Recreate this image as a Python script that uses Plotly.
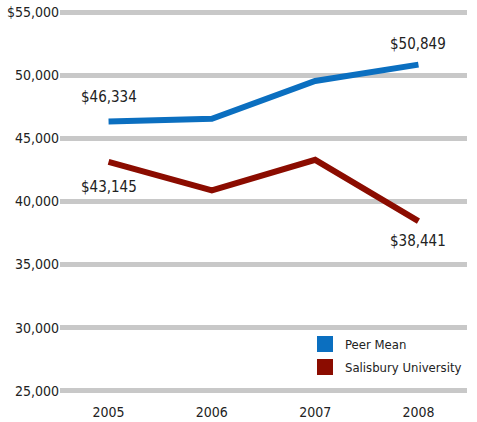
import plotly.graph_objects as go

years = ["2005", "2006", "2007", "2008"]
peer_mean = [46334, 46550, 49550, 50849]
salisbury = [43145, 40880, 43300, 38441]
ytick_vals = [25000, 30000, 35000, 40000, 45000, 50000, 55000]
ytick_text = ["25,000", "30,000", "35,000", "40,000", "45,000", "50,000", "$55,000"]

BLUE = "#0b6fc0"
RED = "#8b0c00"
FONT = "DejaVu Sans Condensed"
TXT = "#222222"

fig = go.Figure()
fig.add_trace(go.Scatter(x=years, y=peer_mean, mode="lines", line=dict(color=BLUE, width=6),
                         showlegend=False, hoverinfo="skip"))
fig.add_trace(go.Scatter(x=years, y=salisbury, mode="lines", line=dict(color=RED, width=6),
                         showlegend=False, hoverinfo="skip"))
fig.add_trace(go.Scatter(x=[None], y=[None], mode="markers", name="Peer Mean", legendgroup="a",
                         marker=dict(symbol="square", size=17, color=BLUE)))
fig.add_trace(go.Scatter(x=[None], y=[None], mode="markers", name="Salisbury University", legendgroup="b",
                         marker=dict(symbol="square", size=17, color=RED)))

def money(v):
    return "&#36;" + "{:,}".format(v)

last = len(years) - 1
for xi, yv, sh in [(0, peer_mean[0], 25), (last, peer_mean[last], 21),
                   (0, salisbury[0], -25), (last, salisbury[last], -20)]:
    fig.add_annotation(x=xi, y=yv, xref="x", yref="y", text=money(yv), yshift=sh,
                       showarrow=False, font=dict(family=FONT, size=15, color=TXT),
                       xanchor="center", yanchor="middle")

fig.update_layout(
    width=477, height=422,
    margin=dict(l=60, r=10, t=11, b=30),
    paper_bgcolor="white", plot_bgcolor="white",
    font=dict(family=FONT, size=14, color=TXT),
    xaxis=dict(type="category", range=[-0.47, 3.47], showgrid=False, showline=False, zeroline=False,
               ticks="", automargin=False, ticklabelstandoff=10,
               tickfont=dict(family=FONT, size=14, color=TXT)),
    yaxis=dict(range=[24900, 55100], tickvals=ytick_vals, ticktext=ytick_text, showgrid=True,
               gridcolor="#c8c8c8", gridwidth=5, zeroline=False, showline=False, ticks="",
               automargin=False, tickfont=dict(family=FONT, size=14, color=TXT)),
    legend=dict(x=1.0, y=0.165, xanchor="right", yanchor="top",
                bgcolor="rgba(0,0,0,0)",
                font=dict(family=FONT, size=13, color=TXT), tracegroupgap=3),
)

fig.write_html("out.html")
